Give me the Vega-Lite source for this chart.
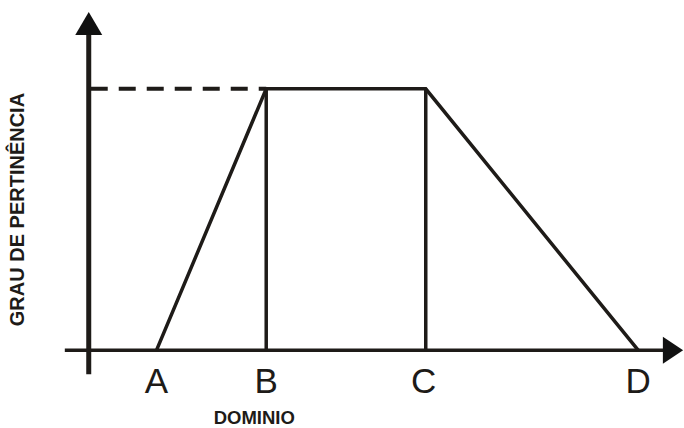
{
  "$schema": "https://vega.github.io/schema/vega-lite/v6.json",
  "width": 684,
  "height": 428,
  "autosize": {"type": "fit", "contains": "padding"},
  "padding": 0,
  "background": "white",
  "config": {"view": {"stroke": null}},
  "datasets": {
    "membership": [
      {"dom": 157, "grau": 0, "ord": 1},
      {"dom": 267, "grau": 1, "ord": 2},
      {"dom": 427, "grau": 1, "ord": 3},
      {"dom": 640, "grau": 0, "ord": 4}
    ],
    "verticals": [
      {"dom": 267, "grau": 0, "grau2": 1},
      {"dom": 427, "grau": 0, "grau2": 1}
    ],
    "yaxis": [{"dom": 89, "grau": -0.092, "grau2": 1.21}],
    "xaxis": [{"dom": 65, "dom2": 668, "grau": 0}],
    "dashed": [{"dom": 91, "dom2": 267, "grau": 1}],
    "arrowUp": [{"dom": 89, "grau": 1.25}],
    "arrowRight": [{"dom": 675, "grau": 0}],
    "ticks": [
      {"dom": 157, "grau": -0.164, "label": "A"},
      {"dom": 267, "grau": -0.164, "label": "B"},
      {"dom": 425, "grau": -0.164, "label": "C"},
      {"dom": 640, "grau": -0.164, "label": "D"}
    ],
    "xtitle": [{"dom": 255, "grau": -0.282, "label": "DOMINIO"}],
    "ytitle": [{"dom": 18, "grau": 0.538, "label": "GRAU DE PERTINÊNCIA"}]
  },
  "encoding": {
    "x": {"field": "dom", "type": "quantitative", "scale": {"domain": [0, 684], "nice": false, "zero": false}, "axis": null},
    "y": {"field": "grau", "type": "quantitative", "scale": {"domain": [-0.2939, 1.3397], "nice": false, "zero": false}, "axis": null}
  },
  "layer": [
    {
      "data": {"name": "yaxis"},
      "mark": {"type": "rule", "color": "#1e1b18", "strokeWidth": 5},
      "encoding": {"y2": {"field": "grau2"}}
    },
    {
      "data": {"name": "xaxis"},
      "mark": {"type": "rule", "color": "#1e1b18", "strokeWidth": 3.5},
      "encoding": {"x2": {"field": "dom2"}}
    },
    {
      "data": {"name": "dashed"},
      "mark": {"type": "rule", "color": "#1e1b18", "strokeWidth": 4, "strokeDash": [17, 11]},
      "encoding": {"x2": {"field": "dom2"}}
    },
    {
      "data": {"name": "verticals"},
      "mark": {"type": "rule", "color": "#1e1b18", "strokeWidth": 3.5},
      "encoding": {"y2": {"field": "grau2"}}
    },
    {
      "data": {"name": "membership"},
      "mark": {"type": "line", "color": "#1e1b18", "strokeWidth": 3.5, "strokeJoin": "miter"},
      "encoding": {"order": {"field": "ord"}}
    },
    {
      "data": {"name": "arrowUp"},
      "mark": {"type": "point", "shape": "M0,-0.85L1,0.85L-1,0.85Z", "size": 729, "filled": true, "color": "#111111", "opacity": 1}
    },
    {
      "data": {"name": "arrowRight"},
      "mark": {"type": "point", "shape": "M-0.75,-1L0.75,0L-0.75,1Z", "size": 729, "filled": true, "color": "#111111", "opacity": 1}
    },
    {
      "data": {"name": "ticks"},
      "mark": {"type": "text", "font": "Liberation Sans", "fontSize": 35, "align": "center", "baseline": "alphabetic", "color": "#1e1b18"},
      "encoding": {"text": {"field": "label"}}
    },
    {
      "data": {"name": "xtitle"},
      "mark": {"type": "text", "font": "Liberation Sans", "fontSize": 18.5, "fontWeight": "bold", "align": "center", "baseline": "alphabetic", "color": "#1e1b18"},
      "encoding": {"text": {"field": "label"}}
    },
    {
      "data": {"name": "ytitle"},
      "mark": {"type": "text", "font": "Liberation Sans", "fontSize": 20, "fontWeight": "bold", "angle": 270, "align": "center", "baseline": "middle", "color": "#1e1b18"},
      "encoding": {"text": {"field": "label"}}
    }
  ]
}
